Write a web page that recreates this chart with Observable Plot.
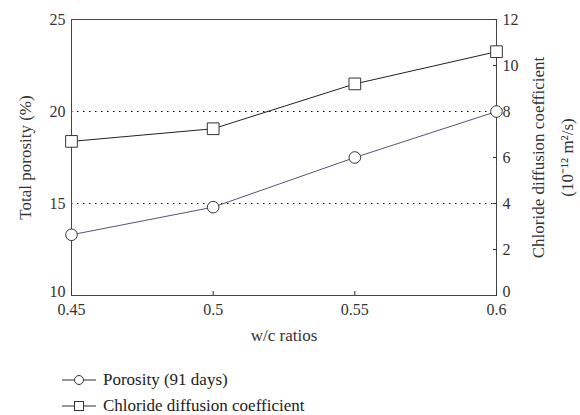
<!DOCTYPE html>
<html>
<head>
<meta charset="utf-8">
<script src="https://cdn.jsdelivr.net/npm/d3@7"></script>
<script src="https://cdn.jsdelivr.net/npm/@observablehq/plot@0.6"></script>
<style>
  body { margin: 0; background: #fff; font-family: "Liberation Serif", serif; }
  #wrap { position: relative; width: 580px; height: 415px; }
  #legend { position: absolute; left: 0; top: 0; width: 580px; height: 415px; pointer-events: none; }
  .item { position: absolute; left: 61px; display: flex; align-items: center; font-size: 17px; color: #222; line-height: 20px; }
  .item svg { margin-right: 6px; }
</style>
</head>
<body>
<div id="wrap">
  <div id="chart"></div>
  <div id="legend">
    <div class="item" style="top:370px">
      <svg width="36" height="14"><line x1="1" y1="7" x2="35" y2="7" stroke="#333" stroke-width="1"/><circle cx="18" cy="7" r="4.5" fill="#fff" stroke="#333"/></svg>
      <span>Porosity (91 days)</span>
    </div>
    <div class="item" style="top:396px">
      <svg width="36" height="14"><line x1="1" y1="7" x2="35" y2="7" stroke="#333" stroke-width="1"/><rect x="13.5" y="2.5" width="9" height="9" fill="#fff" stroke="#333"/></svg>
      <span>Chloride diffusion coefficient</span>
    </div>
  </div>
</div>
<script>
const wcRatios = [0.45, 0.5, 0.55, 0.6];
const porosity = [13.3, 14.8, 17.5, 20.0];
const chloride = [6.7, 7.25, 9.2, 10.6];
const leftTicks = [10, 15, 20, 25];
const rightTicks = [0, 2, 4, 6, 8, 10, 12];
const gridLevels = [15, 20];

// map right-axis values (0–12) onto left scale (10–25)
const toLeft = c => 10 + c * 15 / 12;
const fromLeft = p => (p - 10) * 12 / 15;

const porData = wcRatios.map((w, i) => ({w, v: porosity[i]}));
const chlData = wcRatios.map((w, i) => ({w, v: toLeft(chloride[i])}));

const font = "Liberation Serif";
const ink = "#333";
const tickFs = 16;
const titleFs = 17;

const leftMain = leftTicks.slice(1), leftBottom = leftTicks.slice(0, 1);
const rightMain = rightTicks.slice(1).map(toLeft), rightBottom = rightTicks.slice(0, 1).map(toLeft);
const rightFmt = d => String(Math.round(fromLeft(d)));

const chart = Plot.plot({
  width: 580,
  height: 352,
  marginLeft: 71,
  marginRight: 84,
  marginTop: 19,
  marginBottom: 57,
  style: {fontFamily: font, fontSize: tickFs + "px", color: ink, background: "#fff"},
  x: {domain: [0.45, 0.6]},
  y: {domain: [10, 25]},
  marks: [
    Plot.ruleY(gridLevels, {stroke: "#000", strokeDasharray: "1.5,4.5", strokeWidth: 1}),
    Plot.frame({stroke: "#444", strokeWidth: 1}),
    Plot.axisY({ticks: leftMain, tickSize: 0, tickPadding: 6, label: null, fontSize: tickFs}),
    Plot.axisY({ticks: leftBottom, tickSize: 0, tickPadding: 6, dy: -4, label: null, fontSize: tickFs}),
    Plot.axisY({anchor: "right", ticks: rightMain, tickFormat: rightFmt, tickSize: -4, tickPadding: 10, label: null, fontSize: tickFs}),
    Plot.axisY({anchor: "right", ticks: rightBottom, tickFormat: rightFmt, tickSize: 0, tickPadding: 6, dy: -4, label: null, fontSize: tickFs}),
    Plot.axisX({ticks: wcRatios, tickFormat: d => String(d), tickSize: -4, tickPadding: 12, label: null, fontSize: tickFs}),
    Plot.text(["w/c ratios"], {frameAnchor: "bottom", dy: 45, fontSize: titleFs, fill: ink}),
    Plot.text(["Total porosity (%)"], {frameAnchor: "left", textAnchor: "middle", dx: -46, rotate: -90, fontSize: titleFs, fill: ink}),
    Plot.text(["Chloride diffusion coefficient"], {frameAnchor: "right", textAnchor: "middle", dx: 42, rotate: -90, fontSize: titleFs, fill: ink}),
    Plot.text(["(10\u207B\u00B9\u00B2 m\u00B2/s)"], {frameAnchor: "right", textAnchor: "middle", dx: 71, rotate: -90, fontSize: titleFs, fill: ink}),
    Plot.line(porData, {x: "w", y: "v", stroke: "#55556f", strokeWidth: 1}),
    Plot.line(chlData, {x: "w", y: "v", stroke: "#222", strokeWidth: 1}),
    Plot.dot(porData, {x: "w", y: "v", r: 5.8, fill: "#fff", stroke: "#333", strokeWidth: 1}),
    Plot.dot(chlData, {x: "w", y: "v", symbol: "square", r: 6.6, fill: "#fff", stroke: "#333", strokeWidth: 1})
  ]
});
document.getElementById("chart").appendChild(chart);
</script>
</body>
</html>
